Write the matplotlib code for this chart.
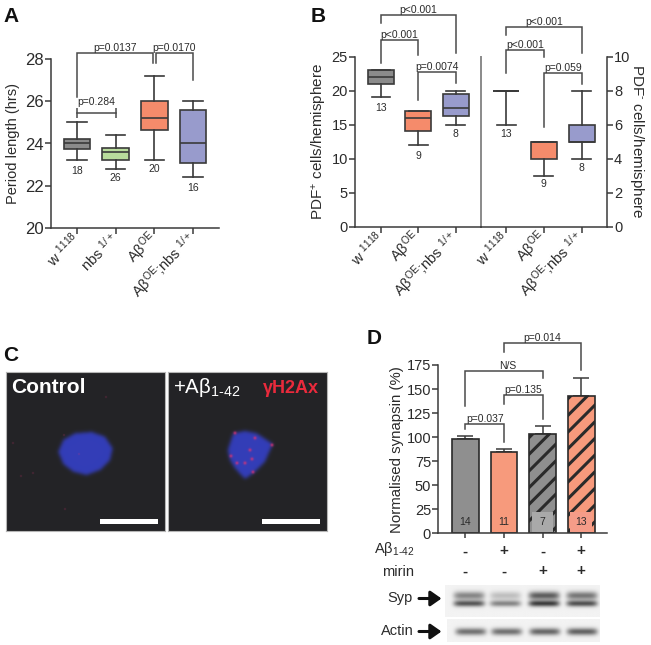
import numpy as np
import matplotlib
matplotlib.use("Agg")
import matplotlib.pyplot as plt
from matplotlib.path import Path
from matplotlib.patches import Rectangle, FancyArrowPatch
from matplotlib.transforms import blended_transform_factory

plt.rcParams['font.family'] = ['Liberation Sans', 'DejaVu Sans']
plt.rcParams['mathtext.fontset'] = 'custom'
plt.rcParams['mathtext.rm'] = 'Liberation Sans'
plt.rcParams['mathtext.default'] = 'regular'
plt.rcParams['hatch.linewidth'] = 2.2

W, H = 651, 645

# colours
GREY = '#8b8b8b'
GREEN = '#b9dc9c'
ORANGE = '#f58b6b'
PURPLE = '#989bcc'
DARK = '#3a3a3a'
TXT = '#2b2b2b'

# panel A
a_labels = ['w $^{1118}$', 'nbs $^{1/+}$', 'Aβ$^{OE}$', 'Aβ$^{OE}$;nbs $^{1/+}$']
a_low = [23.2, 22.8, 23.2, 22.4]
a_q1 = [23.75, 23.2, 24.65, 23.05]
a_med = [24.0, 23.6, 25.2, 24.0]
a_q3 = [24.2, 23.8, 26.0, 25.6]
a_high = [25.0, 24.4, 27.2, 26.0]
a_colors = [GREY, GREEN, ORANGE, PURPLE]
a_n = ['18', '26', '20', '16']
a_n_y = [22.7, 22.35, 22.8, 21.9]
a_brackets = [(1, 2.97, 26.2, 28.3, 27.84, 'p=0.0137'),
              (3.03, 4, 27.84, 28.3, 27.0, 'p=0.0170')]

# panel B, left half (PDF+)
b_labels = ['w $^{1118}$', 'Aβ$^{OE}$', 'Aβ$^{OE}$;nbs $^{1/+}$']
b_colors = [GREY, ORANGE, PURPLE]
bl_low = [19, 12, 15]
bl_q1 = [21, 14, 16.25]
bl_med = [22, 16, 17.5]
bl_q3 = [23, 17, 19.5]
bl_high = [23, 17, 20]
bl_n = ['13', '9', '8']
bl_n_y = [17.4, 10.4, 13.6]
bl_brackets = [(1, 3, 29.9, 31.1, 25.5, 'p<0.001'),
               (1, 2, 24.1, 27.45, 25.3, 'p<0.001'),
               (2, 3, 18.6, 22.8, 21.2, 'p=0.0074')]

# panel B, right half (PDF-)
br_low = [6, 3, 4]
br_q1 = [8, 4, 5]
br_med = [8, 5, 5]
br_q3 = [8, 5, 6]
br_high = [8, 5, 8]
br_n = ['13', '9', '8']
br_n_y = [5.43, 2.49, 3.47]
br_brackets = [(1, 3, 11.3, 11.76, 10.2, 'p<0.001'),
               (1, 2, 9.06, 10.4, 10.0, 'p<0.001'),
               (2, 3, 5.84, 9.06, 8.37, 'p=0.059')]

# panel D
d_values = [98, 85, 103.3, 143.1]
d_errors = [3.5, 3, 8.3, 18]
d_colors = ['#8f8f8f', '#f79a7c', '#8f8f8f', '#f79a7c']
d_hatched = [False, False, True, True]
d_n = ['14', '11', '7', '13']
d_n_back = [None, None, '#a9a9a9', '#f59c88']
d_brackets = [(1, 2, 108, 113.7, 95.3, 'p=0.037', 0),
              (2, 3, 134, 143.5, 118.5, 'p=0.135', 0),
              (1, 3, 132.4, 169, 161, 'N/S', 0.1),
              (2, 4, 188.8, 198, 169.8, 'p=0.014', 0)]
abeta_signs = ['-', '+', '-', '+']
mirin_signs = ['-', '-', '+', '+']

# micrographs, in pixels inside a 159 px panel
nucleus_ctrl = [(52.3, 79.7), (57.3, 68), (69, 61.3), (85.7, 60), (99, 64.7), (106.7, 76.3),
                (104, 88), (94, 98), (80.7, 103), (67.3, 99.7), (57.3, 92)]
nucleus_abeta = [(59.7, 78), (65.3, 61.3), (77, 59), (88.7, 61.3), (104.7, 72), (97, 89.7),
                 (87, 99.7), (77, 107), (67, 96.3), (62, 88)]
spots_ctrl = [(59, 137), (100, 25), (58, 63), (15, 104), (27, 101), (7, 71), (73, 82)]
spots_abeta = [(67, 61), (82, 78), (84, 87), (77, 91), (104, 73), (69, 91), (63, 84), (87, 66), (85, 100)]

# western blots: relative band strength per lane
lane_x = [0.155, 0.39, 0.64, 0.885]
syp_upper = [0.42, 0.2, 0.58, 0.48]
syp_lower = [0.6, 0.42, 0.7, 0.62]
actin_band = [0.5, 0.5, 0.54, 0.56]

fig = plt.figure(figsize=(W / 100, H / 100), dpi=100, facecolor='white')


def add_ax(left, right, top, bottom):
    return fig.add_axes([left / W, 1 - bottom / H, (right - left) / W, (bottom - top) / H])


def style(ax, size=10.5):
    for side in ['top', 'right']:
        ax.spines[side].set_visible(False)
    for side in ['left', 'bottom']:
        ax.spines[side].set_linewidth(1.1)
        ax.spines[side].set_color(DARK)
    ax.tick_params(axis='y', width=1.1, length=4.2, color=DARK, labelcolor=TXT, labelsize=size, pad=1)
    ax.tick_params(axis='x', width=1.1, length=4, color=DARK, labelcolor=TXT, labelsize=10.5, pad=2)


def boxes(ax, low, q1, med, q3, high, colors):
    stats = []
    for i in range(len(low)):
        stats.append(dict(whislo=low[i], q1=q1[i], med=med[i], q3=q3[i], whishi=high[i], fliers=[]))
    lp = dict(color=DARK, linewidth=1.2)
    bp = ax.bxp(stats, positions=range(1, len(low) + 1), widths=0.69, capwidths=0.5, patch_artist=True,
                showfliers=False, manage_ticks=False, boxprops=dict(edgecolor=DARK, linewidth=1.2),
                medianprops=lp, whiskerprops=lp, capprops=lp)
    for patch, c in zip(bp['boxes'], colors):
        patch.set_facecolor(c)


def bracket(ax, x1, x2, y1, top, y2, label, dx=0, pad=0.0):
    ax.plot([x1, x1, x2, x2], [y1, top, top, y2], color='#4a4a4a', lw=1.1, clip_on=False,
            solid_joinstyle='miter')
    ax.text((x1 + x2) / 2 + dx, top + pad, label, ha='center', va='bottom', fontsize=7.5, color=TXT, clip_on=False)


def rotated_labels(ax, labels):
    ax.set_xticks(range(1, len(labels) + 1))
    ax.set_xticklabels(labels, rotation=45, ha='right', va='center', rotation_mode='anchor')


# A
ax = add_ax(51.3, 219, 59.3, 227.7)
style(ax, 12)
boxes(ax, a_low, a_q1, a_med, a_q3, a_high, a_colors)
ax.set_xlim(0.335, 4.67)
ax.set_ylim(20, 28)
ax.set_yticks([20, 22, 24, 26, 28])
rotated_labels(ax, a_labels)
ax.set_ylabel('Period length (hrs)', fontsize=10.5, color=TXT, labelpad=4)
for i, t in enumerate(a_n):
    ax.text(i + 1, a_n_y[i], t, ha='center', va='center', fontsize=7.5, color=TXT)
for b in a_brackets:
    bracket(ax, *b)
ax.plot([1, 2], [25.46, 25.46], color='#4a4a4a', lw=1.1)
ax.vlines([1, 2], 25.22, 25.7, color='#4a4a4a', lw=1.1)
ax.text(1.5, 25.72, 'p=0.284', ha='center', va='bottom', fontsize=7.5, color=TXT)

# B left
ax = add_ax(355, 480.7, 56.7, 226.7)
style(ax)
boxes(ax, bl_low, bl_q1, bl_med, bl_q3, bl_high, b_colors)
ax.set_xlim(1 - 26 / 37.5, 3 + 25 / 37.5)
ax.set_ylim(0, 25)
ax.set_yticks([0, 5, 10, 15, 20, 25])
rotated_labels(ax, b_labels)
ax.spines['right'].set_visible(True)
ax.spines['right'].set_color('#8a8a8a')
ax.spines['right'].set_linewidth(1.4)
ax.set_ylabel('PDF$^{+}$ cells/hemisphere', fontsize=11, color=TXT, labelpad=1.5)
for i, t in enumerate(bl_n):
    ax.text(i + 1, bl_n_y[i], t, ha='center', va='center', fontsize=7.5, color=TXT)
for b in bl_brackets:
    bracket(ax, *b)

# B right
ax = add_ax(480.7, 606.7, 56.7, 226.7)
ax.patch.set_visible(False)
style(ax)
ax.spines['left'].set_visible(False)
ax.spines['right'].set_visible(True)
ax.spines['right'].set_linewidth(1.1)
ax.spines['right'].set_color(DARK)
boxes(ax, br_low, br_q1, br_med, br_q3, br_high, b_colors)
ax.set_xlim(1 - 25.3 / 37.5, 3 + 25 / 37.5)
ax.set_ylim(0, 10)
ax.set_yticks([0, 2, 4, 6, 8, 10])
ax.yaxis.tick_right()
ax.yaxis.set_label_position('right')
rotated_labels(ax, b_labels)
ax.set_ylabel('PDF$^{\\text{-}}$ cells/hemisphere', fontsize=11, color=TXT, rotation=270, labelpad=11)
for i, t in enumerate(br_n):
    ax.text(i + 1, br_n_y[i], t, ha='center', va='center', fontsize=7.5, color=TXT)
for b in br_brackets:
    bracket(ax, *b)


# C
def micrograph(left, nucleus, spots, spot_strength, spot_size):
    ax = add_ax(left, left + 159, 372, 530.7)
    n = 318
    xx, yy = np.meshgrid((np.arange(n) + 0.5) / 2, (np.arange(n) + 0.5) / 2)
    pts = np.column_stack([xx.ravel(), yy.ravel()])
    mask = Path(nucleus).contains_points(pts).reshape(n, n).astype(float)
    # soft edge
    t = np.arange(-12, 13)
    kernel = np.exp(-t ** 2 / (2 * 3.5 ** 2))
    kernel /= kernel.sum()
    mask = np.apply_along_axis(lambda r: np.convolve(r, kernel, mode='same'), 0, mask)
    mask = np.apply_along_axis(lambda r: np.convolve(r, kernel, mode='same'), 1, mask)
    red = np.zeros((n, n))
    for sx, sy in spots:
        red += np.exp(-((xx - sx) ** 2 + (yy - sy) ** 2) / (2 * spot_size ** 2))
    red = np.clip(red * spot_strength, 0, 1)
    img = np.zeros((n, n, 3))
    bg = np.array([0.14, 0.14, 0.15])
    blue = np.array([0.2, 0.24, 0.72])
    pink = np.array([0.9, 0.2, 0.45])
    for c in range(3):
        img[:, :, c] = bg[c] * (1 - mask) + blue[c] * mask
        img[:, :, c] = img[:, :, c] * (1 - red) + pink[c] * red
    ax.imshow(img, extent=[0, 159, 159, 0], aspect='auto', interpolation='bilinear')
    ax.set_xticks([])
    ax.set_yticks([])
    for s in ax.spines.values():
        s.set_color('#b5b5b5')
        s.set_linewidth(0.8)
    ax.add_patch(Rectangle((94, 147), 57.5, 5, color='white', lw=0))
    return ax


ax = micrograph(6, nucleus_ctrl, spots_ctrl, 0.45, 0.5)
ax.text(5, 21, 'Control', color='white', fontweight='bold', fontsize=15, ha='left', va='baseline')
ax = micrograph(168, nucleus_abeta, spots_abeta, 0.8, 1.1)
ax.text(5, 21, '+Aβ$_{1\\text{-}42}$', color='white', fontsize=14.7, ha='left', va='baseline')
ax.text(151, 21, 'γH2Ax', color='#ea2a3c', fontweight='bold', fontsize=13, ha='right', va='baseline')

# D
ax = add_ax(438.3, 607.3, 365, 533.3)
style(ax)
ax.tick_params(axis='x', length=3.5, labelbottom=False)
xpos = np.arange(1, 5)
for i in range(4):
    ax.bar(xpos[i], d_values[i], width=0.69, color=d_colors[i], edgecolor='#2a2a2a', linewidth=1.2,
           hatch='//' if d_hatched[i] else None, zorder=2)
    ax.errorbar(xpos[i], d_values[i], yerr=[[0], [d_errors[i]]], color='#3a3a3a', lw=1.1, capsize=5.5,
                capthick=1.1, zorder=1)
    if d_n_back[i]:
        ax.add_patch(Rectangle((xpos[i] - 0.28, 1), 0.56, 21, color=d_n_back[i], lw=0, zorder=3))
    ax.text(xpos[i], 11.4, d_n[i], ha='center', va='center', fontsize=7.5, color=TXT, zorder=4)
ax.set_xlim(1 - 27 / 38.67, 4 + 26 / 38.67)
ax.set_ylim(0, 175)
ax.set_xticks(xpos)
ax.set_yticks(np.arange(0, 176, 25))
ax.set_ylabel('Normalised synapsin (%)', fontsize=10.8, color=TXT, labelpad=2)
for b in d_brackets:
    bracket(ax, b[0], b[1], b[2], b[3], b[4], b[5], dx=b[6])

# sign rows under the D bars
trans = blended_transform_factory(ax.transData, fig.transFigure)
for i in range(4):
    ax.text(xpos[i], 1 - 551.5 / H, abeta_signs[i], transform=trans, ha='center', va='center',
            fontsize=11, fontweight='bold', color=TXT)
    ax.text(xpos[i], 1 - 571.5 / H, mirin_signs[i], transform=trans, ha='center', va='center',
            fontsize=11, fontweight='bold', color=TXT)
fig.text(414 / W, 1 - 549.5 / H, 'Aβ$_{1\\text{-}42}$', ha='right', va='center', fontsize=10.5, color=TXT)
fig.text(414.5 / W, 1 - 571.5 / H, 'mirin', ha='right', va='center', fontsize=10.5, color=TXT)
fig.text(413 / W, 1 - 598 / H, 'Syp', ha='right', va='center', fontsize=10.5, color=TXT)
fig.text(414 / W, 1 - 631 / H, 'Actin', ha='right', va='center', fontsize=10.5, color=TXT)


# blots
def blot(left, right, top, bottom, rows):
    ax = add_ax(left, right, top, bottom)
    ny, nx = 80, 300
    xx, yy = np.meshgrid(np.linspace(0, 1, nx), np.linspace(0, 1, ny))
    img = np.full((ny, nx), 0.95)
    for band_y, strengths, thick in rows:
        for cx, s in zip(lane_x, strengths):
            img -= s * np.exp(-((xx - cx) / 0.1) ** 6) * np.exp(-((yy - band_y) / thick) ** 2)
    ax.imshow(np.clip(img, 0, 1), cmap='gray', vmin=0, vmax=1, aspect='auto', extent=[0, 1, 1, 0])
    ax.axis('off')


blot(445, 600, 585, 616.7, [(0.33, syp_upper, 0.13), (0.58, syp_lower, 0.1)])
blot(447, 600, 619, 641.7, [(0.55, actin_band, 0.16)])

# blot arrows
for y in [598.5, 631.5]:
    fig.add_artist(FancyArrowPatch(
        (419 / W, 1 - y / H), (441.5 / W, 1 - y / H), transform=fig.transFigure,
        arrowstyle='-|>,head_length=5,head_width=3.5', color='#111111', lw=2.2, mutation_scale=1.3,
        shrinkA=0, shrinkB=0))

# panel letters
for letter, x, y in [('A', 3, 21.5), ('B', 311, 21.5), ('C', 3, 361), ('D', 367, 344.5)]:
    fig.text(x / W, 1 - y / H, letter, fontsize=15, fontweight='bold', color='#111111', ha='left', va='baseline')

fig.savefig('out.png', dpi=100)
